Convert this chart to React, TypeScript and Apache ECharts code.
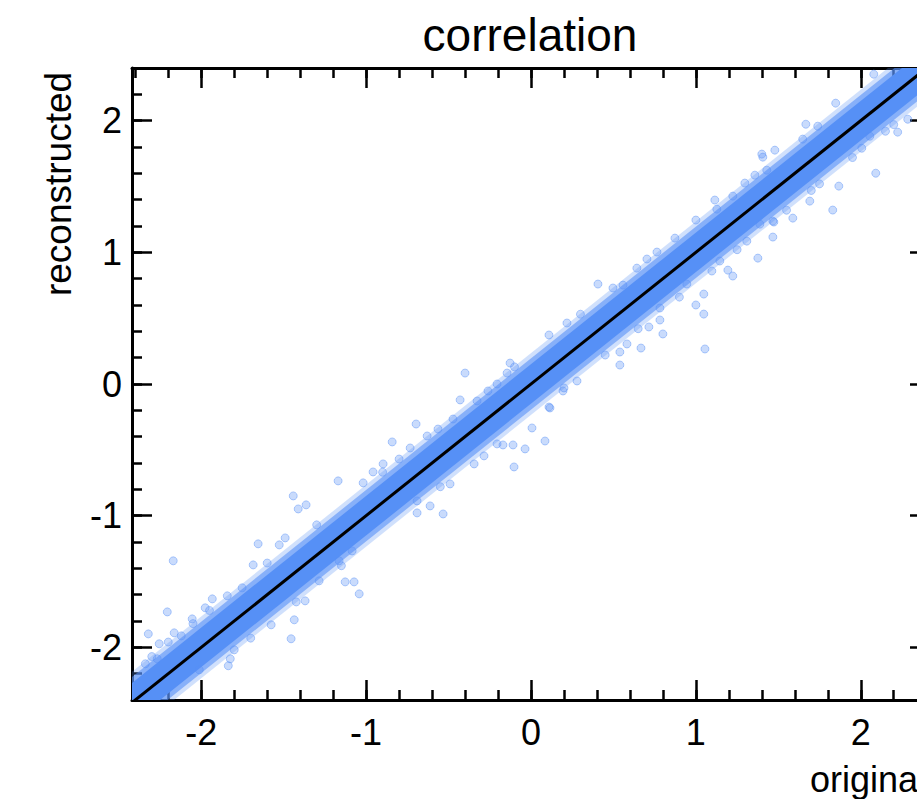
import React, { useEffect, useRef } from "react";
import * as echarts from "echarts";

// axis ranges and ticks
const xRange = [-2.42, 2.42];
const yRange = [-2.4, 2.4];
const majorTicks = [-2, -1, 0, 1, 2];
const majorStep = 1;
const minorStep = 0.2;

// identity (y = x) reference line, also centre of the dense band of points
const lineX = [-2.6, 2.6];
const lineY = [-2.6, 2.6];

// dense band of points: vertical half-thickness (data units) and density of each layer
const bandHalf = [0.235, 0.195, 0.15];
const bandAlpha = [0.28, 0.6, 1];

// individually visible scattered points (original, reconstructed)
const pointX = [
  -1.17, -1.442, -1.412, -1.364, -2.17, -1.655, -1.685, -2.206, -2.321, -2.164,
  -1.127, -1.073, -1.042, -1.436, -1.455, -1.576, -1.824, -1.836, -1.8, -1.933,
  -1.976, -1.491, -1.527, -1.424, -2.012, -2.121, -2.255, -2.339, -2.267,
  -0.4, -0.43, -0.697, -0.842, -0.958, -0.103, -0.036, 0.085, -0.109, -0.17,
  -0.285, -0.533, -0.612, -0.491, -0.345, -0.127, 0.109, 0.218, 0.109, 0.194,
  0.279, 0.006, -0.691, -0.145, -0.206, -0.897, -1.018, 0.539, 0.667, 0.539, 0.406,
  1.055, 1.048, 1.0, 1.048, 1.376, 1.467, 1.467, 1.224, 1.194, 1.097,
  0.8, 0.782, 0.715, 0.582, 1.115, 1.0, 0.873, 0.764, 0.703, 1.297,
  1.358, 1.4, 1.479, 0.558,
  2.079, 1.848, 1.667, 1.739, 1.648, 1.406, 1.43, 2.091, 1.867, 1.83,
  1.588, 1.473, 1.691, 2.224, 2.006, 2.055, 2.285,
  -0.733, -0.63, -0.564, -0.473, -0.327, -0.261, -0.691, -0.206, 0.115,
  -1.842, -2.055, -1.752, -1.37, -1.285, -1.164, -1.085,
  0.642, 0.497, 1.127, 1.224, 1.309, 1.388, 1.145, 0.945, 0.782,
  -2.3, -2.2, -2.05, -1.95, -1.6, -1.3, -0.9, -0.8, -0.1, 0.3,
  0.45, 0.9, 1.55, 1.75, 1.95, 2.15, -2.25, -1.7, -1.15, -0.55,
  0.2, 0.65, 1.25, 1.7, 2.2,
];
const pointY = [
  -0.736, -0.85, -0.949, -0.918, -1.343, -1.214, -1.374, -1.731, -1.898, -1.89,
  -1.503, -1.503, -1.594, -1.791, -1.935, -1.829, -2.087, -2.14, -2.019, -1.632,
  -1.7, -1.169, -1.222, -1.655, -2.171, -1.913, -1.973, -2.125, -2.087,
  0.083, -0.121, -0.304, -0.44, -0.668, -0.63, -0.493, -0.433, -0.463, -0.463,
  -0.546, -0.987, -0.926, -0.759, -0.607, 0.159, 0.372, 0.463, -0.175, -0.053,
  0.023, -0.334, -0.979, 0.083, 0.0, -0.607, -0.751, 0.144, 0.273, 0.243, 0.759,
  0.266, 0.531, 0.6, 0.683, 0.956, 1.116, 1.237, 0.82, 0.865, 0.858,
  0.38, 0.486, 0.433, 0.304, 1.397, 1.245, 1.108, 1.002, 0.949, 1.526,
  1.586, 1.746, 1.776, 0.751,
  2.353, 2.133, 1.973, 1.958, 1.86, 1.723, 1.624, 1.601, 1.503, 1.321,
  1.26, 1.23, 1.389, 1.913, 1.791, 1.882, 2.011,
  -0.486, -0.395, -0.342, -0.266, -0.129, -0.053, -0.888, -0.455, -0.182,
  -1.609, -1.784, -1.548, -1.647, -1.495, -1.343, -1.268,
  0.88, 0.729, 1.328, 1.427, 1.085, 1.214, 0.934, 0.759, 0.577,
  -2.07, -1.96, -1.82, -1.72, -1.36, -1.07, -0.67, -0.57, 0.13, 0.53,
  0.22, 0.66, 1.32, 1.52, 1.72, 1.92, -2.48, -1.93, -1.38, -0.78,
  -0.03, 0.42, 1.02, 1.47, 1.97,
];

const FONT = "'Liberation Sans', Arial, Helvetica, sans-serif";

function makeAxis(dim: "x" | "y", position: string, step: number, len: number, labels: boolean, line: boolean) {
  const range = dim === "x" ? xRange : yRange;
  return {
    type: "value",
    gridIndex: 0,
    position,
    min: range[0],
    max: range[1],
    minInterval: step,
    maxInterval: step,
    splitNumber: 5,
    axisLine: { show: line, onZero: false, lineStyle: { color: "#000", width: 3 } },
    axisTick: { show: true, inside: true, length: len, lineStyle: { color: "#000", width: 2.5 } },
    axisLabel: {
      show: labels,
      margin: dim === "x" ? 14 : 10,
      showMinLabel: false,
      showMaxLabel: false,
      color: "#000",
      fontSize: 36,
      fontFamily: FONT,
      formatter: (v: number) => {
        const r = Math.round(v * 1000) / 1000;
        return majorTicks.includes(r) ? String(r) : "";
      },
    },
    splitLine: { show: false },
  };
}

function bandSeries(h: number, alpha: number) {
  return {
    type: "custom",
    data: [[0, 0]],
    clip: true,
    silent: true,
    z: 1,
    renderItem: (_params: any, api: any) => {
      const pts = [
        api.coord([lineX[0], lineY[0] + h]),
        api.coord([lineX[1], lineY[1] + h]),
        api.coord([lineX[1], lineY[1] - h]),
        api.coord([lineX[0], lineY[0] - h]),
      ];
      return {
        type: "polygon",
        shape: { points: pts },
        style: { fill: `rgba(86,144,246,${alpha})`, stroke: "none" },
      };
    },
  };
}

export default function App() {
  const ref = useRef<HTMLDivElement>(null);
  useEffect(() => {
    if (!ref.current) return;
    const chart = echarts.init(ref.current, undefined, { renderer: "svg" });
    const lineData = lineX.map((x, i) => [x, lineY[i]]);
    const scatterData = pointX.map((x, i) => [x, pointY[i]]);
    chart.setOption({
      animation: false,
      backgroundColor: "#fff",
      grid: { left: 132, top: 68, width: 798, height: 632, show: false },
      xAxis: [
        makeAxis("x", "bottom", majorStep, 20, true, true),
        makeAxis("x", "bottom", minorStep, 10, false, false),
        makeAxis("x", "top", majorStep, 20, false, true),
        makeAxis("x", "top", minorStep, 10, false, false),
      ],
      yAxis: [
        makeAxis("y", "left", majorStep, 20, true, true),
        makeAxis("y", "left", minorStep, 10, false, false),
        makeAxis("y", "right", majorStep, 20, false, true),
        makeAxis("y", "right", minorStep, 10, false, false),
      ],
      graphic: [
        {
          type: "text",
          x: 530,
          y: 35,
          style: { text: "correlation", fill: "#000", font: `46px ${FONT}`, align: "center", verticalAlign: "middle" },
        },
        {
          type: "text",
          x: 58,
          y: 184,
          rotation: Math.PI / 2,
          style: { text: "reconstructed", fill: "#000", font: `37px ${FONT}`, align: "center", verticalAlign: "middle" },
        },
        {
          type: "text",
          x: 926,
          y: 779,
          style: { text: "original", fill: "#000", font: `36px ${FONT}`, align: "right", verticalAlign: "middle" },
        },
      ],
      series: [
        ...bandHalf.map((h, i) => bandSeries(h, bandAlpha[i])),
        {
          type: "scatter",
          data: scatterData,
          symbolSize: 8,
          silent: true,
          itemStyle: { color: "rgba(86,144,246,0.4)", borderColor: "rgba(86,144,246,0.55)", borderWidth: 1 },
          z: 2,
        },
        {
          type: "line",
          data: lineData,
          symbol: "none",
          silent: true,
          clip: true,
          lineStyle: { width: 3, color: "#000" },
          z: 3,
        },
      ],
    });
    return () => chart.dispose();
  }, []);
  return (
    <div style={{ position: "fixed", left: 0, top: 0, width: 917, height: 799, overflow: "hidden", background: "#fff" }}>
      <div ref={ref} style={{ width: 940, height: 799 }} />
    </div>
  );
}
